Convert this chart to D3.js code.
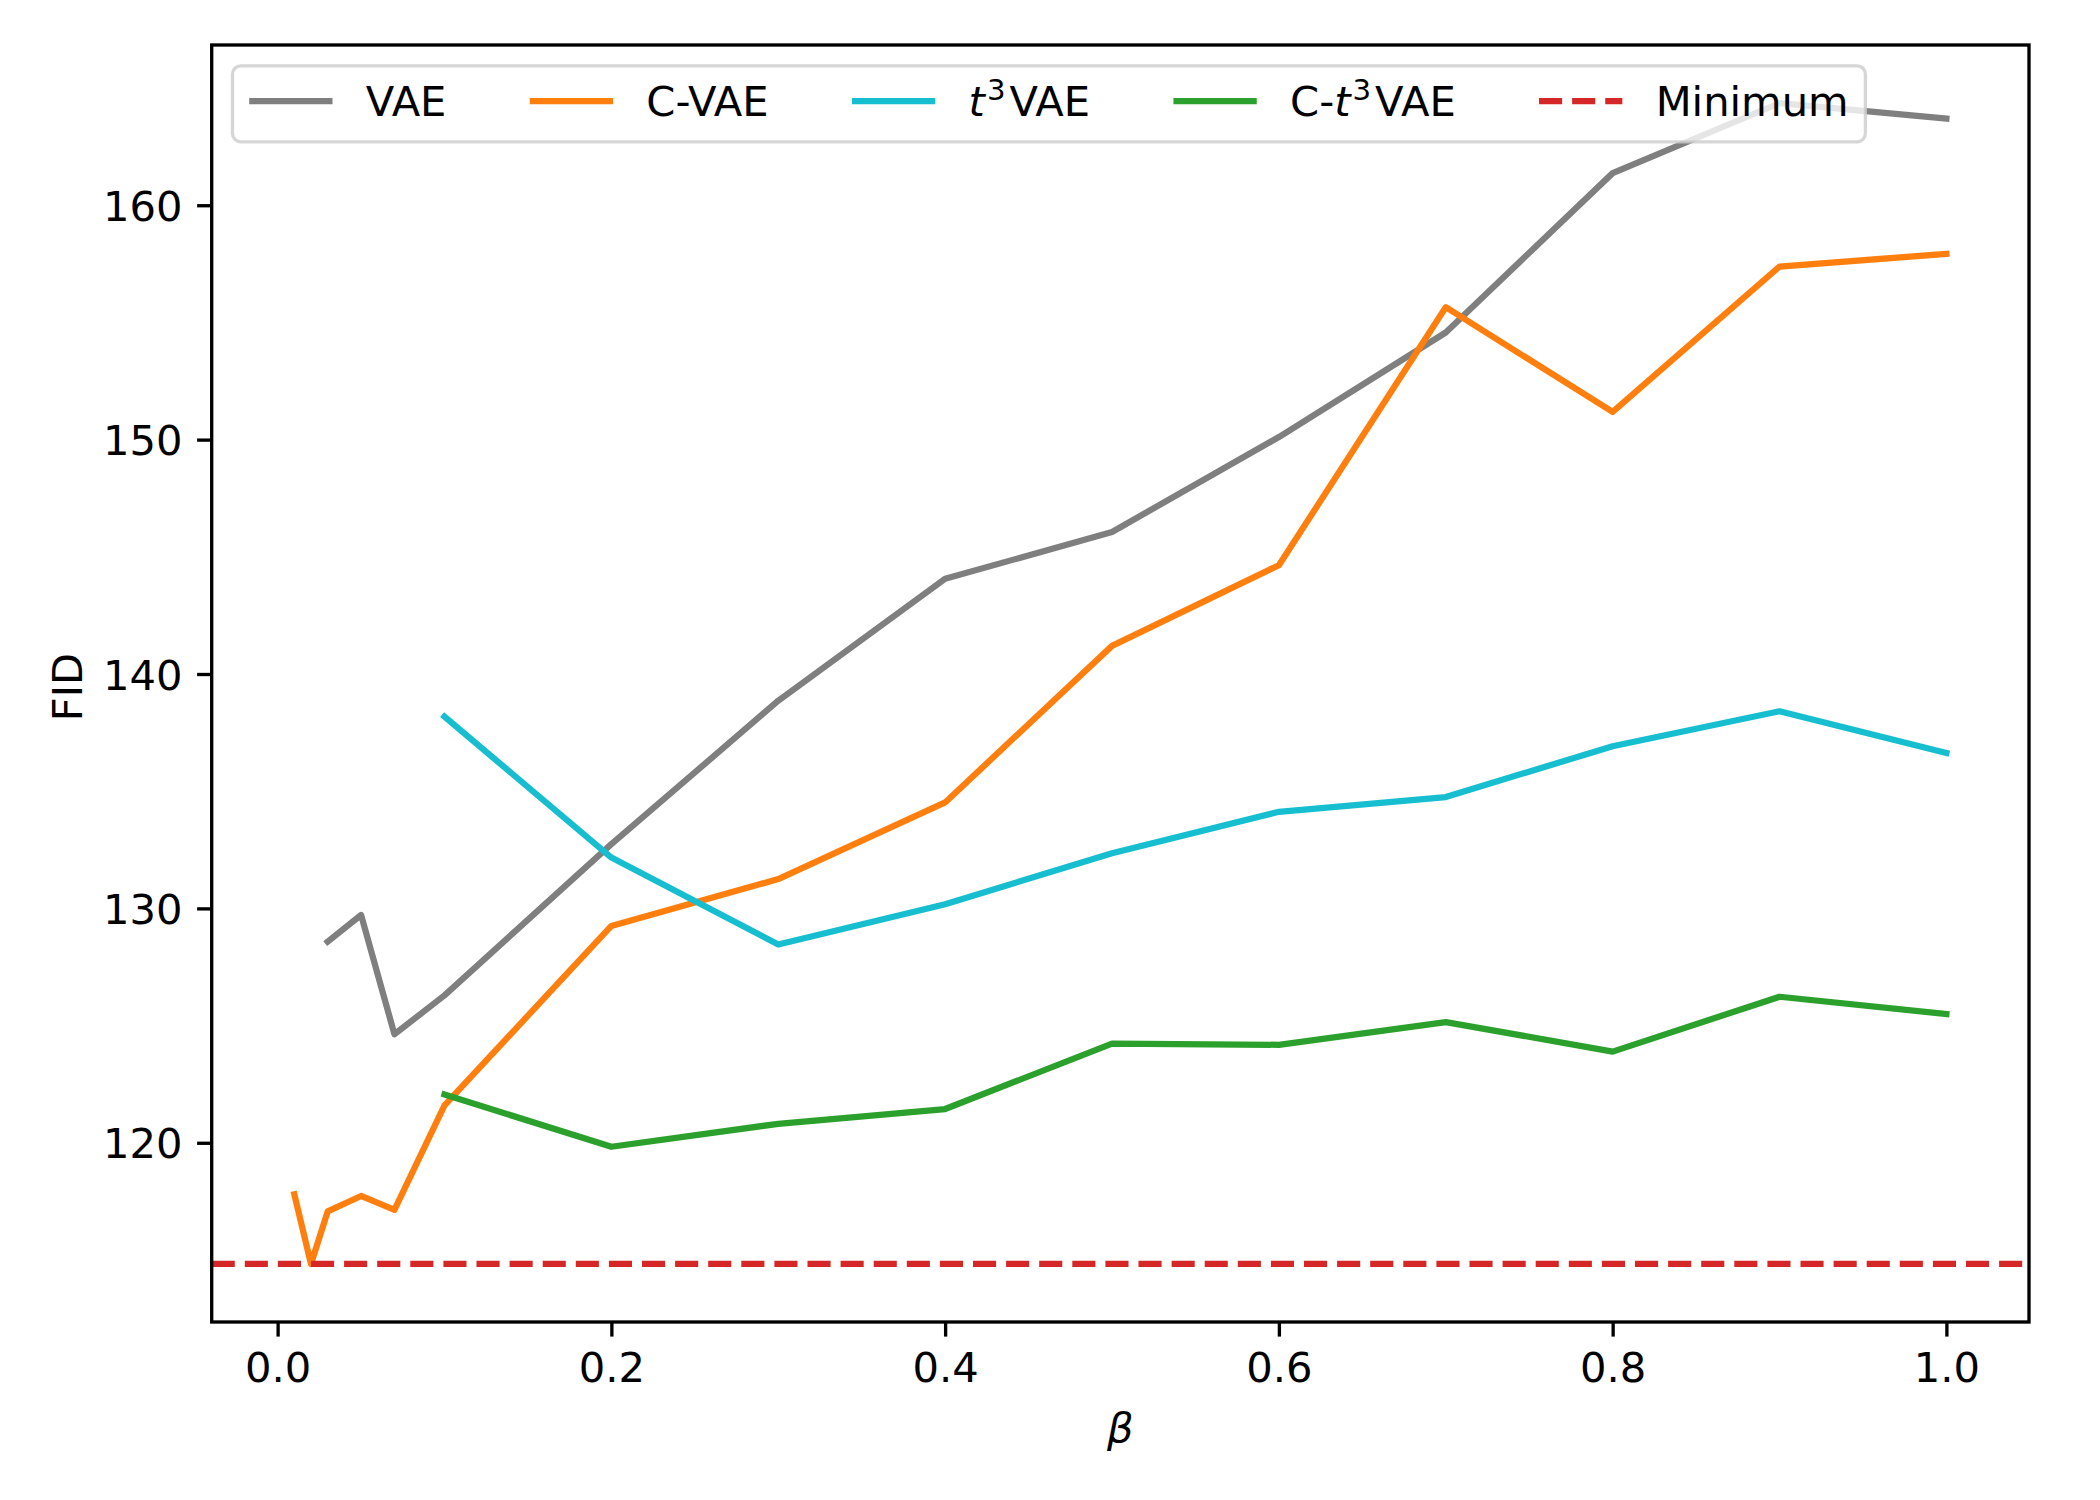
<!DOCTYPE html>
<html><head><meta charset="utf-8">
<script src="https://cdn.jsdelivr.net/npm/d3@7"></script>
<style>body{margin:0;background:#fff} text{font-family:"DejaVu Sans",sans-serif}</style>
</head><body><svg id="c" width="2100" height="1500" xmlns="http://www.w3.org/2000/svg"></svg>
<script>
// ---- data ----
const vaeBeta  = [0.03, 0.05, 0.07, 0.1, 0.2, 0.3, 0.4, 0.5, 0.6, 0.7, 0.8, 0.9, 1.0];
const vaeFID   = [128.58, 129.72, 124.63, 126.29, 132.74, 138.86, 144.06, 146.06, 150.11, 154.57, 161.37, 164.36, 163.70];
const cvaeBeta = [0.01, 0.02, 0.03, 0.05, 0.07, 0.1, 0.2, 0.3, 0.4, 0.5, 0.6, 0.7, 0.8, 0.9, 1.0];
const cvaeFID  = [117.80, 114.83, 117.07, 117.73, 117.14, 121.60, 129.25, 131.25, 134.52, 141.20, 144.64, 155.65, 151.18, 157.38, 157.93];
const t3Beta   = [0.1, 0.2, 0.3, 0.4, 0.5, 0.6, 0.7, 0.8, 0.9, 1.0];
const t3FID    = [138.18, 132.17, 128.46, 130.18, 132.35, 134.12, 134.75, 136.92, 138.41, 136.63];
const ct3Beta  = [0.1, 0.2, 0.3, 0.4, 0.5, 0.6, 0.7, 0.8, 0.9, 1.0];
const ct3FID   = [122.06, 119.83, 120.81, 121.44, 124.23, 124.18, 125.15, 123.89, 126.23, 125.49];
const minimumFID = 114.83;
const xTicks = [0.0, 0.2, 0.4, 0.6, 0.8, 1.0];
const yTicks = [120, 130, 140, 150, 160];
const seriesNames = ["VAE", "C-VAE", "t3VAE", "C-t3VAE", "Minimum"];
const seriesColors = ["#7f7f7f", "#ff7f0e", "#17becf", "#2ca02c", "#d62728"];

// ---- layout ----
const W = 2100, H = 1500;
const L = 211.7, R = 2029, T = 45, B = 1322;
const FS = 41.67, LW = 6.25, SPW = 3.33, TICK = 14.6;

const svg = d3.select("#c");
svg.append("rect").attr("width", W).attr("height", H).attr("fill", "#fff");

const series = [
  {x: vaeBeta, y: vaeFID}, {x: cvaeBeta, y: cvaeFID},
  {x: t3Beta, y: t3FID}, {x: ct3Beta, y: ct3FID}
];
const allX = [].concat(...series.map(s => s.x));
const allY = [].concat(...series.map(s => s.y), [minimumFID]);
const [x0, x1] = d3.extent(allX), [y0, y1] = d3.extent(allY);
const px = (x1 - x0) * 0.05, py = (y1 - y0) * 0.05;
const x = d3.scaleLinear().domain([x0 - px, x1 + px]).range([L, R]);
const y = d3.scaleLinear().domain([y0 - py, y1 + py]).range([B, T]);

svg.append("clipPath").attr("id", "clip").append("rect")
  .attr("x", L).attr("y", T).attr("width", R - L).attr("height", B - T);

const plot = svg.append("g").attr("clip-path", "url(#clip)");
const line = d3.line().x(d => x(d[0])).y(d => y(d[1]));
series.forEach((s, i) => {
  plot.append("path")
    .attr("d", line(s.x.map((v, j) => [v, s.y[j]])))
    .attr("fill", "none").attr("stroke", seriesColors[i])
    .attr("stroke-width", LW).attr("stroke-linejoin", "round").attr("stroke-linecap", "square");
});
plot.append("line")
  .attr("x1", L).attr("x2", R).attr("y1", y(minimumFID)).attr("y2", y(minimumFID))
  .attr("stroke", seriesColors[4]).attr("stroke-width", LW)
  .attr("stroke-dasharray", "23.1,10");

// axes
const xAxis = d3.axisBottom(x).tickValues(xTicks).tickFormat(d3.format(".1f")).tickSize(TICK).tickPadding(TICK);
const yAxis = d3.axisLeft(y).tickValues(yTicks).tickFormat(d3.format("d")).tickSize(TICK).tickPadding(TICK);
const gx = svg.append("g").attr("transform", `translate(0,${B})`).call(xAxis);
const gy = svg.append("g").attr("transform", `translate(${L},0)`).call(yAxis);
[gx, gy].forEach(g => {
  g.select(".domain").remove();
  g.selectAll(".tick line").attr("stroke", "#000").attr("stroke-width", SPW);
  g.selectAll(".tick text").attr("fill", "#000").attr("font-size", FS)
   .attr("font-family", "DejaVu Sans");
});
gx.selectAll(".tick text").attr("dy", null).attr("y", TICK * 2).attr("dominant-baseline", "hanging");
gy.selectAll(".tick text").attr("dy", "0.36em");

// frame
svg.append("rect").attr("x", L).attr("y", T).attr("width", R - L).attr("height", B - T)
  .attr("fill", "none").attr("stroke", "#000").attr("stroke-width", SPW).attr("stroke-linejoin", "miter");

// labels
svg.append("text").attr("x", (L + R) / 2).attr("y", 1442).attr("text-anchor", "middle")
  .attr("font-size", FS).attr("font-style", "italic").text("β");
svg.append("text").attr("transform", "translate(82,687) rotate(-90)").attr("text-anchor", "middle")
  .attr("font-size", FS).text("FID");

// legend
const leg = svg.append("g");
const legL = L + 20.8, legT = T + 20.8, legH = 76, rowY = 101, baseY = 116;
const legRect = leg.append("rect").attr("x", legL).attr("y", legT).attr("height", legH)
  .attr("rx", 8.3).attr("ry", 8.3).attr("fill", "#fff").attr("fill-opacity", 0.8)
  .attr("stroke", "#cccccc").attr("stroke-opacity", 0.8).attr("stroke-width", SPW);
const handleLen = 83.3, handlePad = 33.3, colSpace = 83.3, borderPad = 16.7;
let cx = legL + borderPad;
seriesNames.forEach((name, i) => {
  const h = leg.append("line").attr("x1", cx).attr("x2", cx + handleLen).attr("y1", rowY).attr("y2", rowY)
    .attr("stroke", seriesColors[i]).attr("stroke-width", LW);
  if (name === "Minimum") h.attr("stroke-dasharray", "23.1,10");
  else h.attr("stroke-linecap", "square").attr("x1", cx + LW / 2).attr("x2", cx + handleLen - LW / 2);
  const tx = cx + handleLen + handlePad;
  const t = leg.append("text").attr("x", tx).attr("y", baseY).attr("font-size", FS).attr("fill", "#000");
  const m = name.match(/^(C-)?t3(VAE)$/);
  let extra = 0;
  if (m) {
    if (m[1]) t.append("tspan").text(m[1]);
    t.append("tspan").attr("font-style", "italic").text("t");
    t.append("tspan").attr("font-size", FS * 0.7).attr("dx", 2).attr("dy", -16).text("3");
    t.append("tspan").attr("dx", 4).attr("dy", 16).text(m[2]);
    extra = 6;
  } else t.text(name);
  const w = t.node().getComputedTextLength() + extra;
  cx = tx + w + colSpace;
});
legRect.attr("width", cx - colSpace + borderPad - legL);
</script></body></html>
